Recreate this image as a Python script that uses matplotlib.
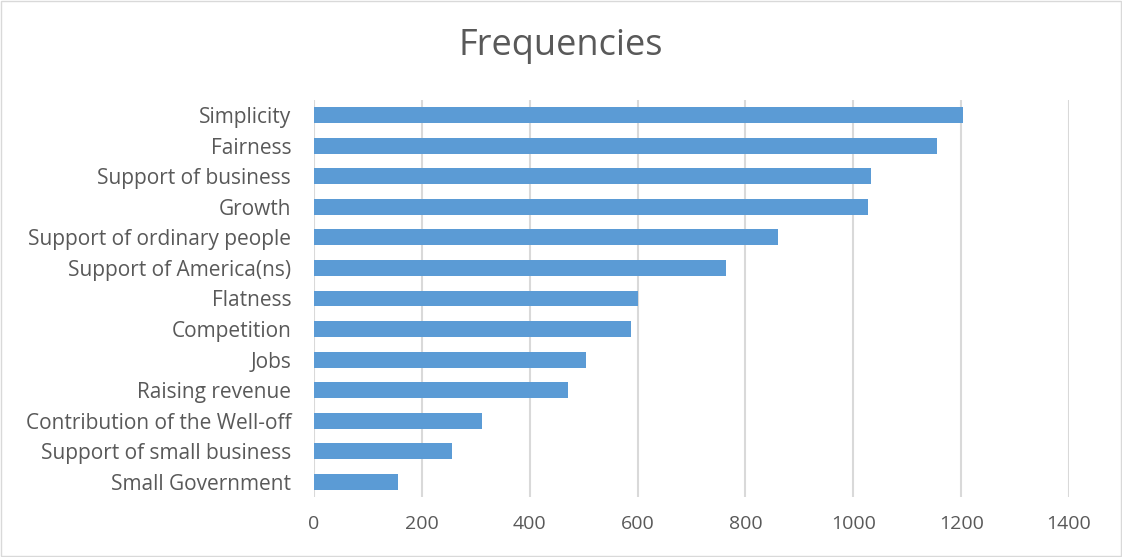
import matplotlib.pyplot as plt
from matplotlib.patches import Rectangle

plt.rcParams['font.family'] = ['Open Sans', 'DejaVu Sans']

categories = ["Simplicity", "Fairness", "Support of business", "Growth",
              "Support of ordinary people", "Support of America(ns)", "Flatness",
              "Competition", "Jobs", "Raising revenue",
              "Contribution of the Well-off", "Support of small business",
              "Small Government"]
frequencies = [1204, 1155, 1032, 1028, 860, 764, 600, 588, 504, 471, 312, 255, 155]
x_ticks = [0, 200, 400, 600, 800, 1000, 1200, 1400]

text_col = "#595959"

fig = plt.figure(figsize=(11.22, 5.57), dpi=100)
ax = fig.add_axes([0.2799, 0.1077, 0.6729, 0.7128])

ypos = list(range(len(categories)))
ax.barh(ypos, frequencies, height=0.52, color="#5B9BD5", zorder=3)
ax.set_ylim(len(categories) - 0.5, -0.5)
ax.set_xlim(0, 1400)
ax.set_yticks(ypos)
ax.set_yticklabels(categories, fontsize=15, color=text_col)
ax.set_xticks(x_ticks)
ax.set_xticklabels([str(t) for t in x_ticks], fontsize=14, color=text_col)
ax.tick_params(length=0, pad=16.5, axis='y')
ax.tick_params(length=0, pad=13, axis='x')
ax.xaxis.grid(True, color="#D9D9D9", linewidth=1.5, zorder=0)
for s in ax.spines.values():
    s.set_visible(False)

fig.text(0.5, 0.918, "Frequencies", ha="center", va="center", fontsize=26, color=text_col)

# thin border round the chart area
fig.patches.append(Rectangle((0.001, 0.002), 0.998, 0.996, transform=fig.transFigure,
                             fill=False, edgecolor="#D9D9D9", linewidth=1))

fig.savefig("out.png", dpi=100)
